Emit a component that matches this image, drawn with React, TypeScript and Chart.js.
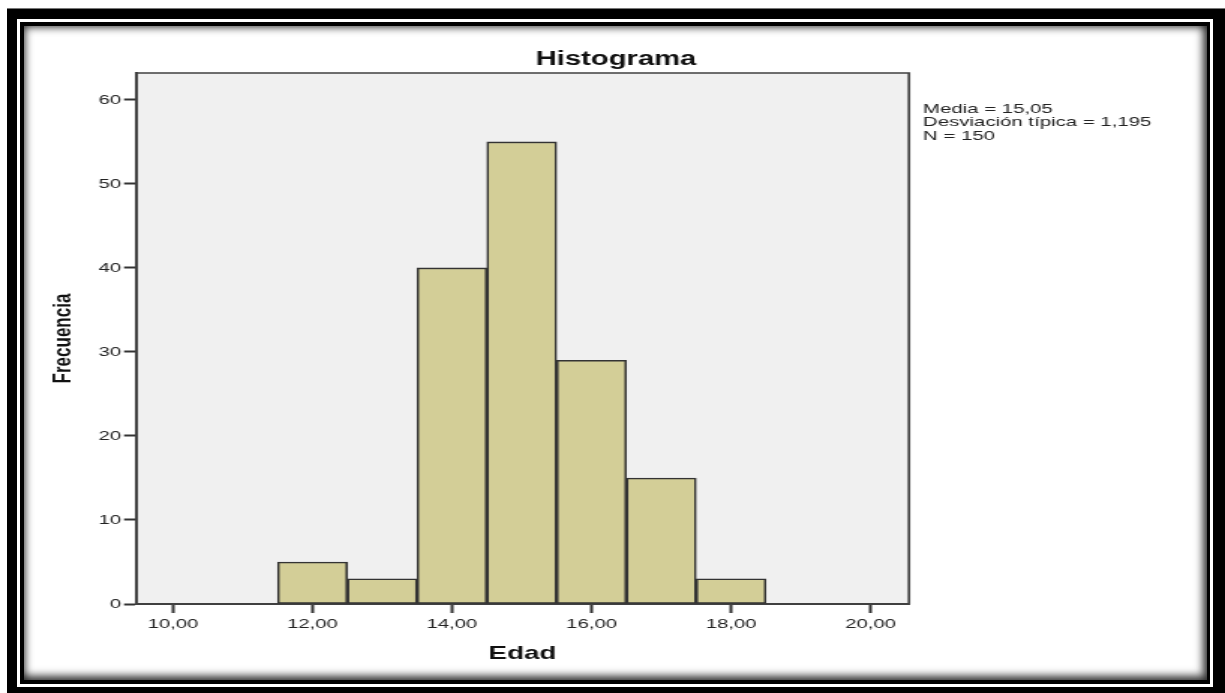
import React, { useEffect, useRef } from 'react';
import { Chart, registerables } from 'chart.js';

Chart.register(...registerables);

// ---- data ----
const binCenters = [12, 13, 14, 15, 16, 17, 18];
const frequencies = [5, 3, 40, 55, 29, 15, 3];
const xTickValues = [10, 12, 14, 16, 18, 20];
const yTickValues = [0, 10, 20, 30, 40, 50, 60];
const statLines = ['Media = 15,05', 'Desviación típica = 1,195', 'N = 150'];
const chartTitle = 'Histograma';
const xTitle = 'Edad';
const yTitle = 'Frecuencia';

const FONT = "'Liberation Sans', Arial, Helvetica, sans-serif";
const CANVAS_W = 817; // drawn narrow, stretched horizontally by CSS to 1225
const CANVAS_H = 693;

const fmtComma = (v: number) => v.toFixed(2).replace('.', ',');

const decorPlugin = {
  id: 'decor',
  beforeDraw(chart: any) {
    const { ctx, chartArea: a } = chart;
    ctx.save();
    ctx.fillStyle = '#f0f0f0';
    ctx.fillRect(a.left, a.top, a.right - a.left, a.bottom - a.top);
    ctx.restore();
  },
  afterDraw(chart: any) {
    const { ctx, chartArea: a } = chart;
    ctx.save();
    ctx.strokeStyle = '#404040';
    ctx.lineWidth = 1.7;
    ctx.beginPath();
    ctx.moveTo(a.left, a.top);
    ctx.lineTo(a.right, a.top);
    ctx.lineTo(a.right, a.bottom);
    ctx.stroke();

    ctx.fillStyle = '#111';
    ctx.textAlign = 'center';
    ctx.textBaseline = 'alphabetic';
    ctx.font = `bold 19.5px ${FONT}`;
    ctx.fillText(chartTitle, chart.width / 2 + 2.3, 64.8);

    ctx.font = `bold 18.5px ${FONT}`;
    ctx.fillText(xTitle, (a.left + a.right) / 2, 658.8);

    ctx.save();
    ctx.translate(42.7, (a.top + a.bottom) / 2);
    ctx.rotate(-Math.PI / 2);
    ctx.font = `bold 17px ${FONT}`;
    ctx.textBaseline = 'middle';
    ctx.fillText(yTitle, 0, 0);
    ctx.restore();

    ctx.font = `13.6px ${FONT}`;
    ctx.textAlign = 'left';
    ctx.fillStyle = '#222';
    statLines.forEach((t, i) => ctx.fillText(t, a.right + 9.4, 112.8 + i * 13.6));
    ctx.restore();
  },
};

export default function App() {
  const ref = useRef<HTMLCanvasElement | null>(null);

  useEffect(() => {
    if (!ref.current) return;
    const chart = new Chart(ref.current, {
      type: 'bar',
      data: {
        datasets: [
          {
            label: 'Frecuencia',
            data: binCenters.map((x, i) => ({ x, y: frequencies[i] })),
            backgroundColor: '#d3ce97',
            borderColor: '#333333',
            borderWidth: 1.6,
            borderSkipped: false,
            barPercentage: 1,
            categoryPercentage: 1,
          },
        ],
      },
      options: {
        responsive: false,
        animation: false,
        devicePixelRatio: 1,
        layout: { padding: { left: 0, top: 73, right: 210.8, bottom: 0 } },
        plugins: {
          legend: { display: false },
          tooltip: { enabled: false },
          title: { display: false },
        },
        scales: {
          x: {
            type: 'linear',
            min: 9.47,
            max: 20.55,
            offset: false,
            afterBuildTicks: (axis: any) => {
              axis.ticks = xTickValues.map((v) => ({ value: v }));
            },
            afterFit: (s: any) => {
              s.height = 89;
            },
            grid: {
              offset: false,
              drawOnChartArea: false,
              drawTicks: true,
              tickLength: 9,
              tickWidth: 2,
              tickColor: '#333',
            },
            border: { display: true, color: '#404040', width: 2 },
            ticks: {
              autoSkip: false,
              maxRotation: 0,
              padding: 3,
              color: '#222',
              font: { family: FONT, size: 13.5 },
              callback: (v: any) => fmtComma(Number(v)),
            },
          },
          y: {
            type: 'linear',
            min: 0,
            max: 63.2,
            afterBuildTicks: (axis: any) => {
              axis.ticks = yTickValues.map((v) => ({ value: v }));
            },
            afterFit: (s: any) => {
              s.width = 90.7;
            },
            grid: {
              drawOnChartArea: false,
              drawTicks: true,
              tickLength: 8,
              tickWidth: 2,
              tickColor: '#333',
            },
            border: { display: true, color: '#404040', width: 2 },
            ticks: {
              padding: 2,
              color: '#222',
              font: { family: FONT, size: 13.5 },
              callback: (v: any) => String(v),
            },
          },
        },
      } as any,
      plugins: [decorPlugin],
    });
    return () => chart.destroy();
  }, []);

  const abs = (l: number, t: number, w: number, h: number, extra: any = {}) => ({
    position: 'absolute' as const,
    left: l,
    top: t,
    width: w,
    height: h,
    ...extra,
  });

  return (
    <div style={abs(0, 0, 1225, 693, { background: '#fff', overflow: 'hidden' })}>
      <div style={abs(7, 8, 1218, 685, { background: '#000', borderTop: '1px solid #777' })} />
      <div style={abs(17, 19, 1196, 668, { background: '#fff' })} />
      <div style={abs(20, 22, 1190, 662, { background: '#000' })} />
      <div
        style={abs(24, 26, 1183, 654, {
          background: '#fff',
          boxShadow: 'inset 0 0 9px 1px rgba(0,0,0,0.8), inset -5px -5px 9px rgba(0,0,0,0.45)',
        })}
      />
      <canvas
        ref={ref}
        width={CANVAS_W}
        height={CANVAS_H}
        style={{ position: 'absolute', left: 0, top: 0, width: '1225px', height: '693px' }}
      />
    </div>
  );
}
